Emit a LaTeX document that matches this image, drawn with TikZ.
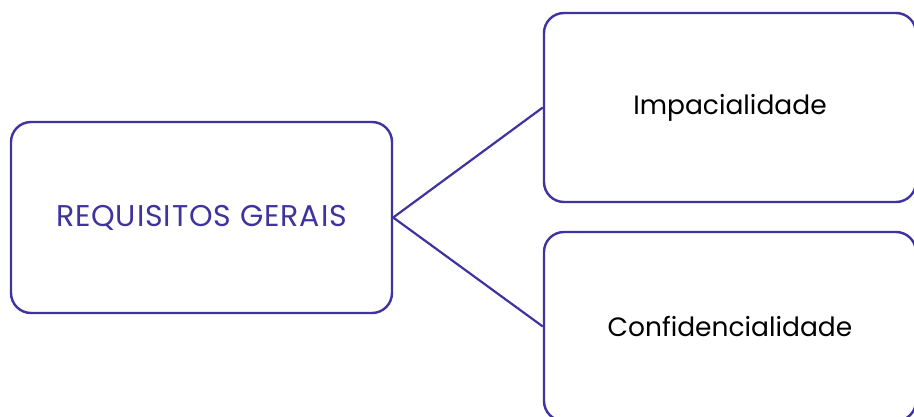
\documentclass[tikz,border=0pt]{standalone}
\usepackage{fontspec}
\setmainfont[Ligatures=NoCommon]{Poppins}
\newfontfamily\capsfont[Ligatures=NoCommon,LetterSpace=3]{Poppins}
\definecolor{boxpurple}{HTML}{3F33A0}
\begin{document}
\begin{tikzpicture}[x=1pt,y=1pt,
  box/.style={draw=boxpurple, line width=2.4pt, rounded corners=20pt, fill=white,
    minimum width=#1, inner sep=0pt, font=\fontsize{26.5}{32}\selectfont},
  link/.style={draw=boxpurple, line width=2.2pt}]
\useasboundingbox (0,0) rectangle (914,416);
\clip (0,0) rectangle (914,416);
\node[box=381pt, minimum height=191pt, text=boxpurple, font=\capsfont\fontsize{30}{36}\selectfont] (req) at (201.5,198.5) {REQUISITOS GERAIS};
\node[box=372pt, minimum height=189pt, text=black] (imp) at (730,308.5) {Impacialidade};
\node[box=372pt, minimum height=189pt, text=black] (conf) at (730,89.5) {Confidencialidade};
\draw[link] (req.east) -- (imp.west);
\draw[link] (req.east) -- (conf.west);
\end{tikzpicture}
\end{document}
